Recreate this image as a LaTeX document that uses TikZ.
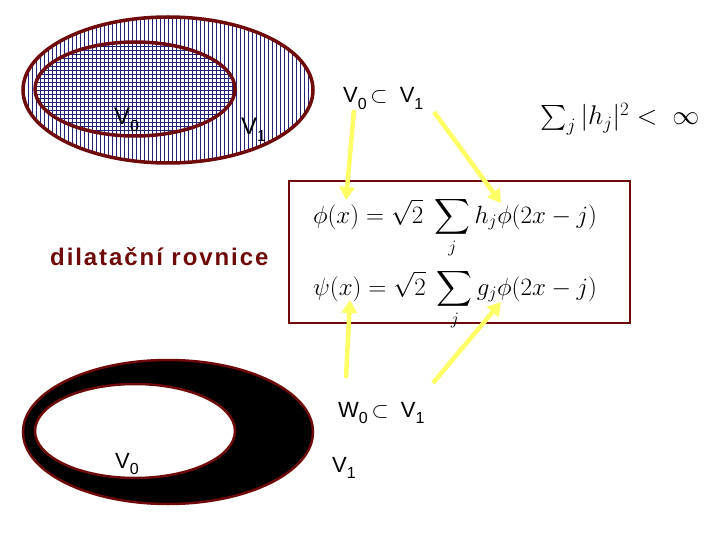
\documentclass[tikz,border=0pt]{standalone}
\usepackage{fix-cm}
\usepackage{amsmath}
\usepackage{fontspec}
\setmainfont{Liberation Sans}
\usetikzlibrary{arrows.meta}
\definecolor{dred}{RGB}{110,10,10}
\definecolor{navy}{RGB}{35,35,120}
\definecolor{yel}{RGB}{255,255,102}
\newcommand\lsub[1]{\raisebox{-0.28em}{\fontsize{16}{16}\selectfont #1}}
\begin{document}
\begin{tikzpicture}[x=1pt,y=-1pt,
  rim/.style={draw=dred,line width=3.5pt},
  hatch/.style={draw=navy,line width=0.9pt},
  yarrow/.style={draw=yel,line width=4.5pt,-{Triangle[length=13pt,width=15pt]}},
  lab/.style={font=\fontsize{22}{26}\selectfont,inner sep=0pt,anchor=base west},
  eq/.style={font=\fontsize{25}{30}\selectfont,inner sep=0pt,anchor=base,text depth=0pt}]
\useasboundingbox (0,0) rectangle (720,540);
% top ellipses
\begin{scope}
  \clip (168,90) ellipse [x radius=145,y radius=73];
  \foreach \x in {24,28,...,316} \draw[hatch] (\x,10) -- (\x,170);
\end{scope}
\begin{scope}
  \clip (135,89) ellipse [x radius=100,y radius=47];
  \fill[white] (30,40) rectangle (240,140);
  \foreach \x in {24,28,...,240} \draw[hatch] (\x,38) -- (\x,140);
  \foreach \y in {38,42,...,140} \draw[hatch] (30,\y) -- (240,\y);
\end{scope}
\draw[rim] (168,90) ellipse [x radius=145,y radius=73];
\draw[rim] (135,89) ellipse [x radius=100,y radius=47];
\node[lab,font=\fontsize{24}{28}\selectfont] (v0a) at (114,125) {V\lsub{0}};
\node[lab,font=\fontsize{24}{28}\selectfont] (v1a) at (241,135) {V\lsub{1}};
% bottom ellipses
\draw[draw=dred,line width=2.5pt,fill=black] (168,432) ellipse [x radius=145,y radius=72];
\draw[draw=dred,line width=2.5pt,fill=white] (135,431) ellipse [x radius=100,y radius=47];
\node[lab] (v0b) at (115,468) {V\lsub{0}};
% texts
\node[lab] (inc1) at (343,103) {V\lsub{0}\,$\subset$\ \ V\lsub{1}};
\node[lab] (inc2) at (338,417) {W\lsub{0}\,$\subset$\ \ V\lsub{1}};
\node[lab] (v1b) at (332,472) {V\lsub{1}};
\node[lab,text=dred,font=\fontsize{24}{28}\selectfont\bfseries\addfontfeature{LetterSpace=8}] (dil) at (50,265) {dilatační rovnice};
\node[eq,font=\fontsize{27}{32}\selectfont] (cond) at (620,125) {$\sum_j |h_j|^2 <\ \infty$};
% box
\node[draw=dred,line width=2.5pt,minimum width=341pt,minimum height=142pt,inner sep=0pt] (box) at (459.5,252) {};
\node[eq] (eq1) at (455,223) {$\displaystyle \phi(x) = \sqrt{2}\ \sum_j h_j\phi(2x-j)$};
\node[eq] (eq2) at (455,295) {$\displaystyle \psi(x) = \sqrt{2}\ \sum_j g_j\phi(2x-j)$};
% arrows
\coordinate (s1) at (354,110);
\coordinate (e1) at (346,200);
\coordinate (s2) at (434,112);
\coordinate (e2) at (501,203);
\coordinate (s3) at (346,378);
\coordinate (e3) at (350,300);
\coordinate (s4) at (433,383);
\coordinate (e4) at (501,302);
\draw[yarrow] (s1) -- (e1);
\draw[yarrow] (s2) -- (e2);
\draw[yarrow] (s3) -- (e3);
\draw[yarrow] (s4) -- (e4);
\end{tikzpicture}
\end{document}
